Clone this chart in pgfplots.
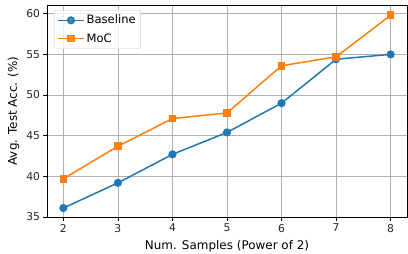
\documentclass[border=0pt]{standalone}
\usepackage{fontspec}
\setmainfont{DejaVu Sans}
\usepackage{pgfplots}
\pgfplotsset{compat=1.18}
\definecolor{cA}{HTML}{1F77B4}
\definecolor{cB}{HTML}{FF7F0E}
\definecolor{gridc}{HTML}{B0B0B0}
\begin{document}
\begin{tikzpicture}
\begin{axis}[
  scale only axis,
  width=360bp, height=212bp,
  xmin=1.7, xmax=8.3, ymin=35, ymax=61.07,
  xtick={2,3,4,5,6,7,8},
  ytick={35,40,45,50,55,60},
  /pgf/number format/assume math mode=true,
  tick label style={font=\fontsize{10.8}{12}\selectfont, color=black!85},
  label style={font=\fontsize{12}{14}\selectfont},
  xlabel={Num. Samples (Power of 2)},
  ylabel={Avg. Test Acc. (\%)},
  xlabel style={yshift=-1bp},
  ylabel style={yshift=0bp},
  grid=major,
  major grid style={gridc, line width=0.8bp},
  axis line style={line width=0.8bp, black},
  tick style={line width=0.8bp, black},
  tick align=outside,
  major tick length=3.5bp,
  xtick pos=bottom, ytick pos=left,
  legend cell align=left,
  legend style={font=\fontsize{11.6}{13}\selectfont, draw=black!20, rounded corners=2bp, fill=white, fill opacity=0.8, text opacity=1, at={(7bp,207bp)}, anchor=north west, row sep=4bp, inner xsep=3bp, inner ysep=3bp},
  legend image code/.code={\draw[#1] (0bp,0bp) -- (26bp,0bp); \draw[#1, mark repeat=2, mark phase=2] plot coordinates {(0bp,0bp) (13bp,0bp) (26bp,0bp)};},
]
\addplot[cA, line width=1.5bp, mark=*, mark size=3.3bp, mark options={solid}] coordinates {
(2,36.1) (3,39.2) (4,42.7) (5,45.4) (6,49.0) (7,54.4) (8,55.0)};
\addlegendentry{Baseline}
\addplot[cB, line width=1.5bp, mark=square*, mark size=3.1bp, mark options={solid}] coordinates {
(2,39.7) (3,43.7) (4,47.1) (5,47.8) (6,53.6) (7,54.7) (8,59.8)};
\addlegendentry{MoC}
\end{axis}
\pgfresetboundingbox
\path[use as bounding box] (-47bp,-37bp) rectangle (361bp,217bp);
\end{tikzpicture}
\end{document}
